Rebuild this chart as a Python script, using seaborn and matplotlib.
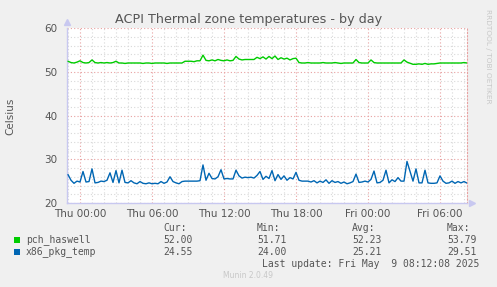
import pandas as pd
import numpy as np
import matplotlib
matplotlib.use("Agg")
import matplotlib.pyplot as plt
import matplotlib.dates as mdates
from matplotlib.patches import Rectangle
import seaborn as sns

# ==========================
# DATOS (muestras cada 15 min, desde Wed 23:00)
# ==========================
start_time = "2025-05-07 23:00"
sample_freq = "15min"

pch_haswell = [
    52.4, 52.1, 52.0, 52.2,   # Wed 23h
    52.5, 52.1, 52.0, 52.1,   # Thu 00h
    52.7, 52.1, 52.0, 52.1,
    52.0, 52.1, 52.0, 52.1,
    52.4, 52.0, 52.0, 51.9,
    52.0, 52.0, 52.0, 52.0,
    52.0, 51.9, 52.0, 52.0,
    51.9, 52.0, 52.0, 52.0,   # 06h
    52.0, 51.9, 52.0, 52.0,
    52.0, 52.0, 52.0, 52.4,
    52.4, 52.4, 52.3, 52.5,
    52.5, 53.8, 52.6, 52.5,   # 10h
    52.7, 52.5, 52.8, 52.6,
    52.5, 52.7, 52.5, 52.6,   # 12h
    53.5, 52.9, 52.7, 52.8,
    52.8, 52.8, 52.8, 53.3,
    53.0, 53.4, 52.9, 53.5,
    53.0, 53.6, 52.8, 53.2,
    52.9, 53.1, 52.7, 53.0,
    53.1, 52.1, 52.0, 52.0,   # 18h
    52.1, 52.0, 52.0, 52.0,
    52.0, 52.1, 52.0, 52.0,
    52.0, 52.1, 52.0, 51.9,
    52.0, 52.0, 52.0, 52.0,
    52.8, 52.1, 52.0, 52.0,
    52.0, 52.7, 52.1, 52.0,   # Fri 00h
    52.0, 52.0, 52.0, 52.0,
    52.0, 52.0, 52.0, 52.0,
    52.7, 52.2, np.nan, 51.7,
    51.7, 51.8, 51.7, 51.9,
    51.7, 51.8, 51.8, 51.9,
    52.0, 52.0, 52.0, 52.0,   # 06h
    52.0, 52.0, 52.0, 52.0,
    52.1, 52.0,
]

x86_pkg_temp = [
    26.5, 25.2, 24.5, 25.0,   # Wed 23h
    24.8, 27.2, 24.8, 24.9,   # Thu 00h
    27.8, 24.6, 24.7, 25.0,
    24.9, 25.2, 26.9, 24.7,
    27.4, 24.6, 27.5, 24.7,
    24.6, 25.1, 24.6, 24.4,
    24.9, 24.5, 24.4, 24.6,
    24.4, 24.5, 24.4, 24.9,   # 06h
    24.5, 24.8, 26.0, 24.9,
    24.6, 24.4, 24.9, 25.0,
    25.0, 25.0, 25.0, 25.0,
    25.1, 28.7, 25.2, 26.8,   # 10h
    25.6, 25.5, 26.0, 27.6,
    25.5, 25.6, 25.5, 25.5,   # 12h
    27.5, 26.2, 25.7, 25.9,
    25.8, 25.9, 25.7, 26.3,
    27.2, 25.4, 26.1, 25.6,
    27.4, 25.1, 26.5, 25.4,
    26.2, 25.2, 25.8, 25.5,
    27.0, 25.2, 25.0, 25.0,   # 18h
    25.0, 24.8, 25.1, 24.6,
    25.0, 24.7, 25.3, 24.5,
    25.1, 24.7, 24.9, 24.5,
    24.8, 24.4, 24.6, 24.9,
    26.6, 24.7, 24.8, 25.0,
    24.8, 25.4, 27.3, 24.6,   # Fri 00h
    24.7, 25.2, 27.5, 24.6,
    25.3, 24.9, 25.8, 25.0,
    25.0, 29.5, np.nan, 25.0,
    27.8, 24.6, 24.6, 27.5,
    24.6, 24.5, 24.5, 24.6,
    26.2, 25.0, 24.5, 24.6,   # 06h
    25.0, 24.5, 24.9, 24.6,
    24.9, 24.55,
]

series_names = ["pch_haswell", "x86_pkg_temp"]
series_colors = ["#00CC00", "#0066B3"]
stats_cur = ["52.00", "24.55"]
stats_min = ["51.71", "24.00"]
stats_avg = ["52.23", "25.21"]
stats_max = ["53.79", "29.51"]

y_ticks = [20, 30, 40, 50, 60]
x_start = "2025-05-07 22:55"
x_end = "2025-05-09 08:15"

# ==========================
# DATAFRAME
# ==========================
tiempos = pd.date_range(start_time, periods=len(pch_haswell), freq=sample_freq)
df = pd.DataFrame({"tiempo": tiempos,
                   "pch_haswell": pch_haswell,
                   "x86_pkg_temp": x86_pkg_temp})
df_long = df.melt(id_vars="tiempo", var_name="sensor", value_name="temp")

# ==========================
# GRAFICA
# ==========================
sns.set_style("white")
plt.rcParams["font.family"] = ["DejaVu Sans"]

W, H = 497, 287
fig = plt.figure(figsize=(W / 100, H / 100), dpi=100, facecolor="#F0F0F0")
ax = fig.add_axes([67 / W, 1 - 203 / H, 400 / W, 175 / H])
ax.set_facecolor("white")

sns.lineplot(data=df_long, x="tiempo", y="temp", hue="sensor",
             palette=dict(zip(series_names, series_colors)),
             linewidth=1.0, legend=False, ax=ax, zorder=5)

ax.set_xlim(pd.Timestamp(x_start), pd.Timestamp(x_end))
ax.set_ylim(20, 60)

# grid menor / mayor
ax.xaxis.set_major_locator(mdates.HourLocator(byhour=[0, 6, 12, 18]))
ax.xaxis.set_minor_locator(mdates.HourLocator())
ax.xaxis.set_major_formatter(mdates.DateFormatter("%a %H:%M"))
ax.set_yticks(y_ticks)
ax.set_yticks(np.arange(20, 61, 2), minor=True)

ax.grid(which="minor", color="#D8D8D8", linestyle=(0, (1, 2)), linewidth=0.8)
ax.grid(which="major", color="#E8A0A0", linestyle=(0, (1, 2)), linewidth=0.8)
ax.set_axisbelow(True)

ax.tick_params(which="both", length=0)
ax.tick_params(axis="y", labelsize=7.5, labelcolor="#555555", pad=7)
ax.tick_params(axis="x", labelsize=7.5, labelcolor="#555555", pad=4)

ax.spines["top"].set_visible(False)
ax.spines["right"].set_color("#E8A0A0")
ax.spines["right"].set_linestyle((0, (1, 2)))
ax.spines["right"].set_linewidth(0.8)
for s in ["left", "bottom"]:
    ax.spines[s].set_color("#C8C8F0")
    ax.spines[s].set_linewidth(1.0)
# flechas de los ejes
ax.plot([0], [1.035], marker="^", color="#C8C8F0", markersize=4,
        transform=ax.transAxes, clip_on=False)
ax.plot([1.012], [0], marker=">", color="#C8C8F0", markersize=4,
        transform=ax.transAxes, clip_on=False)

ax.set_xlabel("")
ax.set_ylabel("")

# textos
fig.text(0.5, 1 - 19 / H, "ACPI Thermal zone temperatures - by day",
         ha="center", va="center", fontsize=9.2, color="#555555")
fig.text(10 / W, 1 - 116 / H, "Celsius", rotation=90, ha="center",
         va="center", fontsize=7.5, color="#555555")
fig.text(488 / W, 1 - 56 / H, "RRDTOOL / TOBI OETIKER", rotation=270,
         ha="center", va="center", fontsize=5.3, color="#C8C8C8")

mono = dict(family="DejaVu Sans Mono", fontsize=7, color="#555555",
            va="center", ha="left")
cols_x = [163, 257, 352, 447]
headers = ["Cur:", "Min:", "Avg:", "Max:"]
for cx, hd in zip(cols_x, headers):
    fig.text(cx / W, 1 - 228 / H, hd, **mono)

rows_y = [240, 252]
for i, name in enumerate(series_names):
    ry = rows_y[i]
    fig.patches.append(Rectangle((14 / W, 1 - (ry + 3) / H), 6 / W, 6 / H,
                                 transform=fig.transFigure,
                                 facecolor=series_colors[i], edgecolor="none"))
    fig.text(26 / W, 1 - ry / H, name, **mono)
    vals = [stats_cur[i], stats_min[i], stats_avg[i], stats_max[i]]
    for cx, v in zip(cols_x, vals):
        fig.text(cx / W, 1 - ry / H, v, **mono)

fig.text(262 / W, 1 - 264 / H, "Last update: Fri May  9 08:12:08 2025", **mono)
fig.text(248 / W, 1 - 276 / H, "Munin 2.0.49", ha="center", va="center",
         fontsize=5.5, color="#C8C8C8")

fig.savefig("out.png", dpi=100, facecolor=fig.get_facecolor())
